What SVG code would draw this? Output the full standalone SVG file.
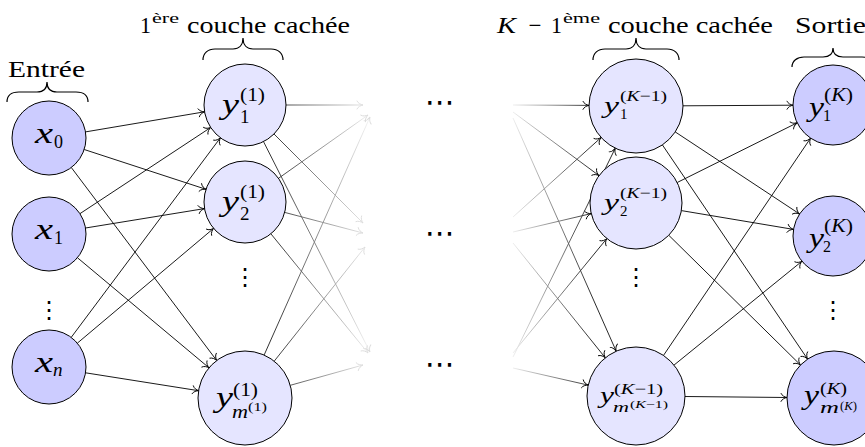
<svg xmlns="http://www.w3.org/2000/svg" width="865" height="447" viewBox="0 0 865 447">
<defs>
<marker id="ah" markerUnits="userSpaceOnUse" markerWidth="12" markerHeight="12" viewBox="-8 -6 10 12" refX="0" refY="0" orient="auto" overflow="visible">
<path d="M-6,-4 C-5,-1.6 -2.2,-0.5 0,0 C-2.2,0.5 -5,1.6 -6,4" fill="none" stroke="#000" stroke-width="0.9" stroke-linecap="round"/>
</marker>
<marker id="ahl" markerUnits="userSpaceOnUse" markerWidth="12" markerHeight="12" viewBox="-8 -6 10 12" refX="0" refY="0" orient="auto" overflow="visible">
<path d="M-6,-4 C-5,-1.6 -2.2,-0.5 0,0 C-2.2,0.5 -5,1.6 -6,4" fill="none" stroke="#dcdcdc" stroke-width="0.9" stroke-linecap="round"/>
</marker>
<linearGradient id="fadeL" gradientUnits="userSpaceOnUse" x1="270" y1="0" x2="370" y2="0">
<stop offset="0" stop-color="#1a1a1a"/><stop offset="1" stop-color="#f4f4f4"/>
</linearGradient>
<linearGradient id="fadeR" gradientUnits="userSpaceOnUse" x1="510" y1="0" x2="595" y2="0">
<stop offset="0" stop-color="#f4f4f4"/><stop offset="1" stop-color="#111"/>
</linearGradient>
</defs>
<style>
.n0{fill:#ccccff;stroke:#000;stroke-width:1}
.n1{fill:#e5e5ff;stroke:#000;stroke-width:1}
.e{stroke:#000;stroke-width:0.9;fill:none;marker-end:url(#ah)}
.fl{stroke:url(#fadeL);stroke-width:0.9;fill:none;marker-end:url(#ahl)}
.fr{stroke:url(#fadeR);stroke-width:0.9;fill:none;marker-end:url(#ah)}
.br{fill:none;stroke:#000;stroke-width:1.2}
.t{font-family:"Liberation Serif","Times New Roman",serif;font-size:23px;fill:#000}
.m{font-family:"Liberation Serif","Times New Roman",serif;font-style:italic;fill:#000}
.r{font-family:"Liberation Serif","Times New Roman",serif;font-style:normal;fill:#000}
.d{font-family:"DejaVu Sans",sans-serif;fill:#000}
</style>

<g id="headers">
<text class="t" x="8" y="77" textLength="77" lengthAdjust="spacingAndGlyphs">Entrée</text>
<text class="t" x="140" y="33" textLength="11" lengthAdjust="spacingAndGlyphs">1</text>
<text class="r" x="152" y="23" font-size="14" textLength="27" lengthAdjust="spacingAndGlyphs">ère</text>
<text class="t" x="187" y="33" textLength="163" lengthAdjust="spacingAndGlyphs">couche cachée</text>
<text class="m" x="497" y="33" font-size="23" textLength="19" lengthAdjust="spacingAndGlyphs">K</text>
<text class="r" x="535" y="33" font-size="23" text-anchor="middle">−</text>
<text class="t" x="551" y="33" textLength="11" lengthAdjust="spacingAndGlyphs">1</text>
<text class="r" x="563" y="23" font-size="14" textLength="37" lengthAdjust="spacingAndGlyphs">ème</text>
<text class="t" x="608" y="33" textLength="165" lengthAdjust="spacingAndGlyphs">couche cachée</text>
<text class="t" x="795" y="33" textLength="71" lengthAdjust="spacingAndGlyphs">Sortie</text>
</g>

<g id="braces">
<path class="br" d="M7,102 C7,95 12,92 19,92 L37,92 C43,92 47,89 47,82 C47,89 51,92 57,92 L76,92 C83,92 88,95 88,102"/>
<path class="br" d="M203,60 C203,53 208,49 215,49 L233,49 C239,49 243,45 243,38 C243,45 247,49 253,49 L271,49 C278,49 283,53 283,60"/>
<path class="br" d="M593,60 C593,53 598,49 605,49 L626,49 C632,49 636,45 636,38 C636,45 640,49 646,49 L667,49 C674,49 679,53 679,60"/>
<path class="br" d="M792,67 C792,61 797,57 804,57 L823,57 C829,57 833,54 833,48 C833,54 837,57 843,57 L862,57 C869,57 874,61 874,67"/>
</g>

<g id="connectors">
<line class="e" x1="85.5" y1="131.9" x2="204.6" y2="111.8"/>
<line class="e" x1="84.2" y1="149.5" x2="206.0" y2="189.3"/>
<line class="e" x1="71.3" y1="167.5" x2="216.7" y2="360.5"/>
<line class="e" x1="79.9" y1="213.7" x2="210.7" y2="127.5"/>
<line class="e" x1="85.5" y1="228.0" x2="204.5" y2="208.6"/>
<line class="e" x1="77.4" y1="257.7" x2="209.0" y2="367.8"/>
<line class="e" x1="71.2" y1="337.4" x2="220.4" y2="137.8"/>
<line class="e" x1="77.3" y1="343.2" x2="213.6" y2="228.4"/>
<line class="e" x1="85.5" y1="372.8" x2="198.6" y2="390.7"/>

<line class="fl" x1="286" y1="105" x2="363" y2="105"/>
<line class="fl" x1="274.0" y1="134.0" x2="363" y2="223"/>
<line class="fl" x1="263.5" y1="141.6" x2="370" y2="352"/>
<line class="fl" x1="278.5" y1="178.3" x2="368" y2="115"/>
<line class="fl" x1="284.7" y1="212.4" x2="363" y2="233"/>
<line class="fl" x1="270.9" y1="233.8" x2="368" y2="353"/>
<line class="fl" x1="264.1" y1="355.1" x2="370" y2="117"/>
<line class="fl" x1="274.2" y1="361.2" x2="365" y2="247"/>
<line class="fl" x1="290.3" y1="385.3" x2="363" y2="365"/>

<line class="fr" x1="513" y1="105" x2="589" y2="105.4"/>
<line class="fr" x1="513" y1="112" x2="599.0" y2="175.6"/>
<line class="fr" x1="513" y1="118" x2="616.2" y2="351.2"/>
<line class="fr" x1="513" y1="217" x2="601.1" y2="137.5"/>
<line class="fr" x1="513" y1="232" x2="591.2" y2="213.6"/>
<line class="fr" x1="513" y1="243" x2="605.3" y2="357.8"/>
<line class="fr" x1="513" y1="357" x2="615.3" y2="148.2"/>
<line class="fr" x1="513" y1="353" x2="606.8" y2="238.6"/>
<line class="fr" x1="513" y1="368" x2="588.2" y2="385.1"/>

<line class="e" x1="683" y1="105.8" x2="793" y2="105.2"/>
<line class="e" x1="675.2" y1="131.9" x2="799.6" y2="214.0"/>
<line class="e" x1="662.4" y1="144.9" x2="807.6" y2="359.1"/>
<line class="e" x1="677.2" y1="182.5" x2="797.2" y2="122.8"/>
<line class="e" x1="681.4" y1="210.6" x2="793.5" y2="229.4"/>
<line class="e" x1="668.8" y1="235.3" x2="800.5" y2="365.0"/>
<line class="e" x1="663.5" y1="355.4" x2="810.6" y2="138.1"/>
<line class="e" x1="674.0" y1="365.1" x2="802.0" y2="261.2"/>
<line class="e" x1="685" y1="396.5" x2="787" y2="397.5"/>
</g>

<g id="x0">
<circle class="n0" cx="49" cy="138" r="37"/>
<text class="m" x="35" y="143" font-size="30" textLength="18" lengthAdjust="spacingAndGlyphs">x</text>
<text class="r" x="54" y="148" font-size="18">0</text>
</g>
<g id="x1">
<circle class="n0" cx="49" cy="234" r="37"/>
<text class="m" x="35" y="239" font-size="30" textLength="18" lengthAdjust="spacingAndGlyphs">x</text>
<text class="r" x="54" y="244" font-size="18">1</text>
</g>
<g id="xdots">
<text class="d" x="49" y="318" font-size="24" text-anchor="middle">⋮</text>
</g>
<g id="xn">
<circle class="n0" cx="49" cy="367" r="37"/>
<text class="m" x="35" y="372" font-size="30" textLength="18" lengthAdjust="spacingAndGlyphs">x</text>
<text class="m" x="53" y="376" font-size="19">n</text>
</g>

<g id="h1_1">
<circle class="n1" cx="245" cy="105" r="41"/>
<text class="m" x="222" y="114" font-size="30" textLength="17" lengthAdjust="spacingAndGlyphs">y</text>
<text class="r" x="240" y="101" font-size="19" textLength="25" lengthAdjust="spacingAndGlyphs">(1)</text>
<text class="r" x="240" y="123" font-size="19">1</text>
</g>
<g id="h1_2">
<circle class="n1" cx="245" cy="202" r="41"/>
<text class="m" x="222" y="211" font-size="30" textLength="17" lengthAdjust="spacingAndGlyphs">y</text>
<text class="r" x="240" y="198" font-size="19" textLength="25" lengthAdjust="spacingAndGlyphs">(1)</text>
<text class="r" x="240" y="220" font-size="19">2</text>
</g>
<g id="h1dots">
<text class="d" x="245" y="285" font-size="24" text-anchor="middle">⋮</text>
</g>
<g id="h1_m">
<circle class="n1" cx="245" cy="398" r="47"/>
<text class="m" x="216" y="407" font-size="30" textLength="17" lengthAdjust="spacingAndGlyphs">y</text>
<text class="r" x="233" y="396" font-size="18" textLength="25" lengthAdjust="spacingAndGlyphs">(1)</text>
<text class="m" x="232" y="418" font-size="18" textLength="16" lengthAdjust="spacingAndGlyphs">m</text>
<text class="r" x="248" y="411" font-size="12" textLength="19" lengthAdjust="spacingAndGlyphs">(1)</text>
</g>

<g id="mid">
<text class="d" x="440" y="112" font-size="30" text-anchor="middle">⋯</text>
<text class="d" x="440" y="243" font-size="30" text-anchor="middle">⋯</text>
<text class="d" x="440" y="374" font-size="30" text-anchor="middle">⋯</text>
</g>

<g id="hK_1">
<circle class="n1" cx="636" cy="106" r="47"/>
<text class="m" x="604" y="113" font-size="24" textLength="15" lengthAdjust="spacingAndGlyphs">y</text>
<text class="r" x="620" y="101" font-size="15" textLength="47" lengthAdjust="spacingAndGlyphs">(<tspan class="m">K</tspan>−1)</text>
<text class="r" x="620" y="119" font-size="15">1</text>
</g>
<g id="hK_2">
<circle class="n1" cx="636" cy="203" r="46"/>
<text class="m" x="604" y="210" font-size="24" textLength="15" lengthAdjust="spacingAndGlyphs">y</text>
<text class="r" x="620" y="198" font-size="15" textLength="47" lengthAdjust="spacingAndGlyphs">(<tspan class="m">K</tspan>−1)</text>
<text class="r" x="620" y="216" font-size="15">2</text>
</g>
<g id="hKdots">
<text class="d" x="636" y="285" font-size="24" text-anchor="middle">⋮</text>
</g>
<g id="hK_m">
<circle class="n1" cx="636" cy="396" r="49"/>
<text class="m" x="600" y="403" font-size="24" textLength="14" lengthAdjust="spacingAndGlyphs">y</text>
<text class="r" x="614" y="394" font-size="15" textLength="49" lengthAdjust="spacingAndGlyphs">(<tspan class="m">K</tspan>−1)</text>
<text class="m" x="613" y="412" font-size="15" textLength="16" lengthAdjust="spacingAndGlyphs">m</text>
<text class="r" x="630" y="408" font-size="11" textLength="38" lengthAdjust="spacingAndGlyphs">(<tspan class="m">K</tspan>−1)</text>
</g>

<g id="o_1">
<circle class="n0" cx="833" cy="105" r="40"/>
<text class="m" x="809" y="116" font-size="27" textLength="15" lengthAdjust="spacingAndGlyphs">y</text>
<text class="r" x="824" y="101" font-size="18" textLength="29" lengthAdjust="spacingAndGlyphs">(<tspan class="m">K</tspan>)</text>
<text class="r" x="823" y="121" font-size="16">1</text>
</g>
<g id="o_2">
<circle class="n0" cx="833" cy="236" r="40"/>
<text class="m" x="809" y="247" font-size="27" textLength="15" lengthAdjust="spacingAndGlyphs">y</text>
<text class="r" x="824" y="232" font-size="18" textLength="29" lengthAdjust="spacingAndGlyphs">(<tspan class="m">K</tspan>)</text>
<text class="r" x="823" y="252" font-size="16">2</text>
</g>
<g id="odots">
<text class="d" x="833" y="318" font-size="24" text-anchor="middle">⋮</text>
</g>
<g id="o_m">
<circle class="n0" cx="834" cy="398" r="47"/>
<text class="m" x="804" y="404" font-size="27" textLength="15" lengthAdjust="spacingAndGlyphs">y</text>
<text class="r" x="820" y="394" font-size="17" textLength="27" lengthAdjust="spacingAndGlyphs">(<tspan class="m">K</tspan>)</text>
<text class="m" x="820" y="413" font-size="17" textLength="19" lengthAdjust="spacingAndGlyphs">m</text>
<text class="r" x="840" y="410" font-size="12" textLength="17" lengthAdjust="spacingAndGlyphs">(<tspan class="m">K</tspan>)</text>
</g>
</svg>
